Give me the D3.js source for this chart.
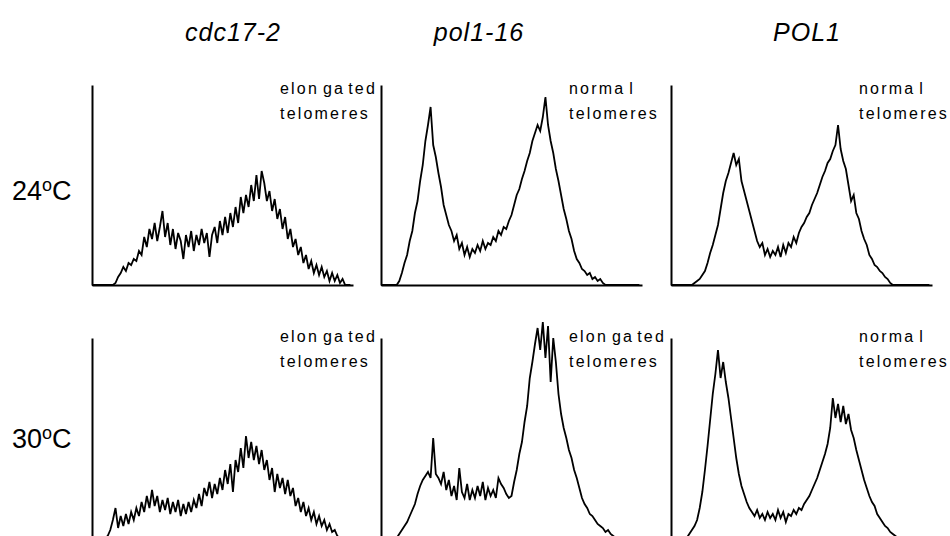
<!DOCTYPE html>
<html>
<head>
<meta charset="utf-8">
<script src="https://cdn.jsdelivr.net/npm/d3@7"></script>
<style>
    body { margin: 0; background: #fff; }
    svg { display: block; }
    .axis path { stroke: #000; stroke-width: 2; }
    .hist { fill: none; stroke: #000; stroke-width: 1.8; stroke-linejoin: miter; }
    text { font-family: "Liberation Sans", Arial, sans-serif; fill: #000; }
    .note { font-family: "Liberation Sans Narrow", "Liberation Sans", Arial, sans-serif; }
</style>
</head>
<body>
<script>
// column / row labels
var strains = ["cdc17-2", "pol1-16", "POL1"];
var temps = ["24", "30"];
// telomere note for each panel, row by row
var notes = [
    ["elongated", "normal", "normal"],
    ["elongated", "elongated", "normal"]
];

// cell counts per channel bin (100 bins)
var cdc17_24 = [0,0,0,0,0,0,0,0,0,1,4,6,9,7,11,10,13,12,17,15,
    24,19,28,23,31,22,29,37,24,31,20,28,18,26,22,13,25,19,27,17,
    25,20,28,21,26,14,25,29,21,32,25,34,26,36,29,39,31,44,36,45,
    39,50,42,55,43,57,51,42,47,37,43,33,38,28,34,23,28,19,23,15,
    19,11,15,8,12,6,10,5,9,4,7,2,6,2,5,1,3,0,0,0];
var pol116_24 = [0,0,0,0,0,0,0,2,6,11,15,22,27,36,42,52,60,72,80,89,
    70,64,56,49,40,35,30,27,22,25,18,21,15,19,14,18,16,20,17,22,
    18,21,20,24,22,27,25,29,28,32,35,40,45,48,53,57,62,66,72,76,
    80,77,84,94,80,72,66,58,52,45,38,33,27,23,17,13,11,8,7,5,
    6,3,4,2,3,1,0,0,0,0,0,0,0,0,0,0,0,0,0,0];
var POL1_24 = [0,0,0,0,0,0,0,0,0,1,2,3,5,7,11,16,20,25,30,38,
    46,52,56,61,66,60,63,52,47,42,37,32,27,22,19,21,15,18,14,17,
    15,19,14,20,16,21,19,24,21,26,29,31,34,36,40,43,46,50,54,57,
    61,63,67,70,80,68,62,58,50,42,45,36,33,27,23,20,15,13,10,9,
    7,6,4,3,1,0,0,0,0,0,0,0,0,0,0,0,0,0,0,0];
var cdc17_30 = [0,0,0,0,0,0,1,4,9,15,5,11,6,12,7,13,9,15,11,18,
    13,21,15,24,16,21,13,19,14,20,12,18,13,19,11,17,12,18,13,19,
    15,22,16,25,21,28,20,27,22,30,24,34,27,37,23,39,33,45,35,51,
    40,48,39,46,37,44,34,39,29,35,23,32,25,30,22,29,21,25,16,20,
    13,18,11,15,9,13,7,11,6,9,4,7,3,4,1,0,0,0,0,0];
var pol116_30 = [0,0,0,0,0,0,0,2,4,6,8,11,14,17,22,26,29,31,33,30,
    50,32,30,27,33,24,29,21,26,19,35,23,20,27,19,24,20,26,21,28,
    19,25,21,24,20,30,27,25,22,20,21,28,34,42,48,58,66,80,88,97,
    105,94,108,90,106,78,100,88,72,62,55,50,44,40,34,30,25,20,17,15,
    12,11,9,7,6,5,3,4,2,1,0,0,0,0,0,0,0,0,0,0];
var POL1_30 = [0,0,0,0,0,0,0,2,4,6,9,15,23,34,46,59,72,82,94,80,
    88,78,70,60,50,40,32,26,22,18,15,13,11,14,10,12,9,13,10,12,
    9,14,10,13,8,12,11,14,12,15,14,17,19,21,24,27,30,34,38,42,
    47,55,70,60,67,58,66,57,62,54,50,44,39,34,29,25,21,18,16,12,
    10,8,6,5,3,2,1,0,0,0,0,0,0,0,0,0,0,0,0,0];

var counts = [
    [cdc17_24, pol116_24, POL1_24],
    [cdc17_30, pol116_30, POL1_30]
];

var w = 950;
var h = 536;
var colX = [92, 381, 671];      // left edge of each panel
var rowBase = [285, 538];       // baseline of each row
var panelW = 261;
var panelH = 200;
var titleX = [233, 479, 807];
var noteW = 90;                 // width of the "telomeres" line

var svg = d3.select("body")
    .append("svg")
    .attr("width", w)
    .attr("height", h);

// column titles
svg.selectAll(".title")
    .data(strains)
    .enter()
    .append("text")
    .attr("class", "title")
    .attr("x", function(d, i) { return titleX[i]; })
    .attr("y", 41)
    .attr("text-anchor", "middle")
    .style("font-size", "25px")
    .style("font-style", "italic")
    .style("letter-spacing", "1px")
    .text(function(d) { return d; });

// row labels, e.g. 24oC
temps.forEach(function(t, r) {
    var lab = svg.append("text")
        .attr("x", 12)
        .attr("y", r == 0 ? 200 : 448)
        .style("font-size", "27px");
    lab.append("tspan").text(t);
    lab.append("tspan").attr("dy", -9).style("font-size", "18px").text("o");
    lab.append("tspan").attr("dy", 9).text("C");
});

// letter spacing so that "telomeres" fills noteW
var probe = svg.append("text").attr("class", "note").style("font-size", "16px").text("telomeres");
var spacing = (noteW - probe.node().getComputedTextLength()) / 9;
probe.remove();

var xScale = d3.scaleLinear().domain([0, 100]).range([0, panelW]);
var yScale = d3.scaleLinear().domain([0, 100]).range([panelH, 0]);

for (var r = 0; r < 2; r++) {
    for (var c = 0; c < 3; c++) {
        var g = svg.append("g")
            .attr("transform", "translate(" + colX[c] + "," + (rowBase[r] - panelH) + ")");

        g.append("path")
            .datum(counts[r][c])
            .attr("class", "hist")
            .attr("d", d3.line()
                .x(function(d, i) { return xScale(i); })
                .y(function(d) { return yScale(d); }));

        // axes, no ticks
        g.append("g")
            .attr("class", "axis")
            .attr("transform", "translate(0," + panelH + ")")
            .call(d3.axisBottom(xScale).ticks(0).tickSizeOuter(0));
        g.append("g")
            .attr("class", "axis")
            .call(d3.axisLeft(yScale).ticks(0).tickSizeOuter(0));

        // telomere note
        var note = g.append("text")
            .attr("class", "note")
            .attr("x", 188)
            .attr("y", r == 0 ? 9 : 4)
            .style("font-size", "16px")
            .style("letter-spacing", spacing + "px");
        var word = notes[r][c];
        if (word == "elongated") {
            // original typesetting leaves gaps: elon ga ted
            note.append("tspan").text("elon");
            note.append("tspan").attr("dx", 4).text("ga");
            note.append("tspan").attr("dx", 3).text("ted");
        } else {
            note.append("tspan").text("norma");
            note.append("tspan").attr("dx", 4).text("l");
        }
        note.append("tspan")
            .attr("x", 188)
            .attr("dy", 25)
            .text("telomeres");
    }
}
</script>
</body>
</html>
